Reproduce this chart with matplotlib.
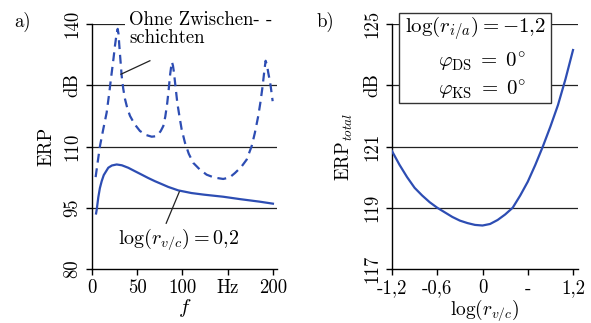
import numpy as np
import matplotlib
matplotlib.use('Agg')
import matplotlib.pyplot as plt
from matplotlib.patches import Rectangle

plt.rcParams['font.family'] = 'serif'
plt.rcParams['font.serif'] = ['cmr10', 'DejaVu Serif']
plt.rcParams['mathtext.fontset'] = 'cm'
plt.rcParams['axes.unicode_minus'] = False
plt.rcParams['axes.formatter.use_mathtext'] = True

BLUE = '#2d4db3'

# panel a: ERP over frequency
f_solid = [4.5, 5.2, 7, 8.7, 10.7, 13, 18, 22, 27.3, 33, 40, 47, 55, 62, 69.6, 77,
           84.3, 95.4, 110, 124, 145, 164, 185, 200]
erp_solid = [93.6, 94.5, 97.6, 99.8, 101.5, 103.0, 104.8, 105.35, 105.6, 105.4,
             104.8, 104.0, 103.1, 102.3, 101.5, 100.8, 100.1, 99.25, 98.6, 98.2,
             97.7, 97.1, 96.5, 96.0]

f_dash = [4, 6.5, 8.8, 12.5, 16.2, 19, 21.8, 23.8, 25.4, 27, 28.4, 29.3, 30.2, 31.5,
          32.8, 34.5, 36.5, 39, 42, 47, 53, 60, 66, 70, 73.3, 76, 78.8, 81, 83.2,
          84.8, 86.2, 87.4, 88.4, 89.5, 90.6, 92.4, 94.3, 96.8, 99.1, 102.8, 107,
          111.9, 119, 126.7, 135, 145, 152, 158, 165, 171, 176.5, 180, 183.8, 186.3,
          188.6, 190.4, 191.9, 193.4, 194.8, 196.2, 197.5, 199.7]
erp_dash = [102.5, 106.5, 110.1, 114.3, 118.3, 123.0, 128.1, 131.6, 134.7, 137.3,
            138.8, 137.6, 134.7, 131.0, 127.3, 124.2, 121.6, 119.4, 117.5, 115.5,
            113.8, 112.8, 112.4, 112.5, 113.0, 113.8, 115.0, 117.3, 120.7, 124.0,
            127.3, 129.4, 130.7, 129.8, 128.1, 124.5, 120.7, 117.2, 114.2, 110.9,
            108.2, 106.0, 104.4, 103.1, 102.4, 102.05, 102.4, 103.5, 105.0, 106.8,
            110.1, 113.3, 117.5, 121.0, 124.8, 128.3, 131.0, 130.0, 128.1, 126.5,
            124.8, 121.1]

a_yticks = [80, 95, 110, 125, 140]
a_ylabels = ['80', '95', '110', 'dB', '140']
a_xticks = [0, 50, 100, 150, 200]
a_xlabels = ['0', '50', '100', 'Hz', '200']

# panel b: total ERP over log(r_v/c)
logr = [-1.2, -1.1, -1.0, -0.9, -0.8, -0.7, -0.6, -0.5, -0.4, -0.3, -0.2, -0.1,
        0.0, 0.1, 0.2, 0.3, 0.4, 0.5, 0.6, 0.7, 0.8, 0.9, 1.0, 1.1, 1.2]
erp_total = [120.85, 120.4, 120.0, 119.65, 119.4, 119.18, 119.0, 118.85, 118.7,
             118.58, 118.5, 118.44, 118.42, 118.47, 118.6, 118.78, 119.0, 119.4,
             119.85, 120.4, 121.0, 121.65, 122.35, 123.2, 124.15]

b_yticks = [117, 119, 121, 123, 125]
b_ylabels = ['117', '119', '121', 'dB', '125']
b_xticks = [-1.2, -0.6, 0, 0.6, 1.2]
b_xlabels = ['-1,2', '-0,6', '0', '-', '1,2']

W, H = 591, 323
fig = plt.figure(figsize=(W / 100, H / 100), dpi=100)


def rect(x0, y0, x1, y1):
    return [x0 / W, 1 - y1 / H, (x1 - x0) / W, (y1 - y0) / H]


def style(ax, yt, yl, xt, xl):
    for s in ['top', 'right']:
        ax.spines[s].set_visible(False)
    ax.spines['left'].set_linewidth(1.0)
    ax.spines['bottom'].set_linewidth(1.0)
    ax.set_yticks(yt)
    ax.set_yticklabels(yl, rotation=90, va='center')
    ax.set_xticks(xt)
    ax.set_xticklabels(xl)
    ax.tick_params(direction='out', length=4.5, width=1.0, labelsize=13.5)
    ax.tick_params(axis='x', pad=3)
    ax.tick_params(axis='y', pad=3)
    for y in yt[1:]:
        ax.axhline(y, color='#222222', lw=0.9, zorder=1)


ax1 = fig.add_axes(rect(92, 24, 277, 269))
ax1.plot(f_solid, erp_solid, color=BLUE, lw=1.6, zorder=3)
ax1.plot(f_dash, erp_dash, color=BLUE, lw=1.6, ls=(0, (4, 2.6)), zorder=3)
ax1.set_xlim(0, 204.5)
ax1.set_ylim(80, 140)
style(ax1, a_yticks, a_ylabels, a_xticks, a_xlabels)
ax1.set_ylabel('ERP', fontsize=13.5, labelpad=6)
ax1.set_xlabel('$f$', fontsize=15, labelpad=0)

ax1.text(41, 143.2, 'Ohne Zwischen- -\nschichten', fontsize=13.5, ha='left',
         va='top', linespacing=1.0, zorder=5,
         bbox=dict(facecolor='white', edgecolor='none', pad=3.0))
ax1.plot([32, 64], [127.7, 131.0], color='#222222', lw=0.9, zorder=4)
ax1.plot([96.5, 82], [98.9, 91.2], color='#222222', lw=0.9, zorder=4)
ax1.text(96, 87.3, r'$\log(r_{v/c})=0{,}2$', fontsize=14.5, ha='center', va='center',
         zorder=5)

ax2 = fig.add_axes(rect(392, 24, 578, 269))
ax2.plot(logr, erp_total, color=BLUE, lw=1.6, zorder=3)
ax2.set_xlim(-1.2, 1.266)
ax2.set_ylim(117, 125)
style(ax2, b_yticks, b_ylabels, b_xticks, b_xlabels)
ax2.set_ylabel('ERP$_{total}$', fontsize=13.5, labelpad=6)
ax2.set_xlabel(r'$\log(r_{v/c})$', fontsize=14, labelpad=0)

fig.patches.append(Rectangle((399 / W, 1 - 103 / H), 152 / W, 90 / H,
                             transform=fig.transFigure, facecolor='white',
                             edgecolor='#333333', lw=1.0, zorder=6))
fig.text(475 / W, 1 - 29 / H, r'$\log(r_{i/a})=-1{,}2$', fontsize=15,
         ha='center', va='center', zorder=7)
fig.text(482 / W, 1 - 62 / H, r'$\varphi_{\mathrm{DS}}\;=\;0^{\circ}$', fontsize=15,
         ha='center', va='center', zorder=7)
fig.text(482 / W, 1 - 90 / H, r'$\varphi_{\mathrm{KS}}\;=\;0^{\circ}$', fontsize=15,
         ha='center', va='center', zorder=7)

fig.text(23 / W, 1 - 22 / H, 'a)', fontsize=13.5, ha='center', va='center')
fig.text(325 / W, 1 - 22 / H, 'b)', fontsize=13.5, ha='center', va='center')

fig.savefig('out.png', dpi=100)
